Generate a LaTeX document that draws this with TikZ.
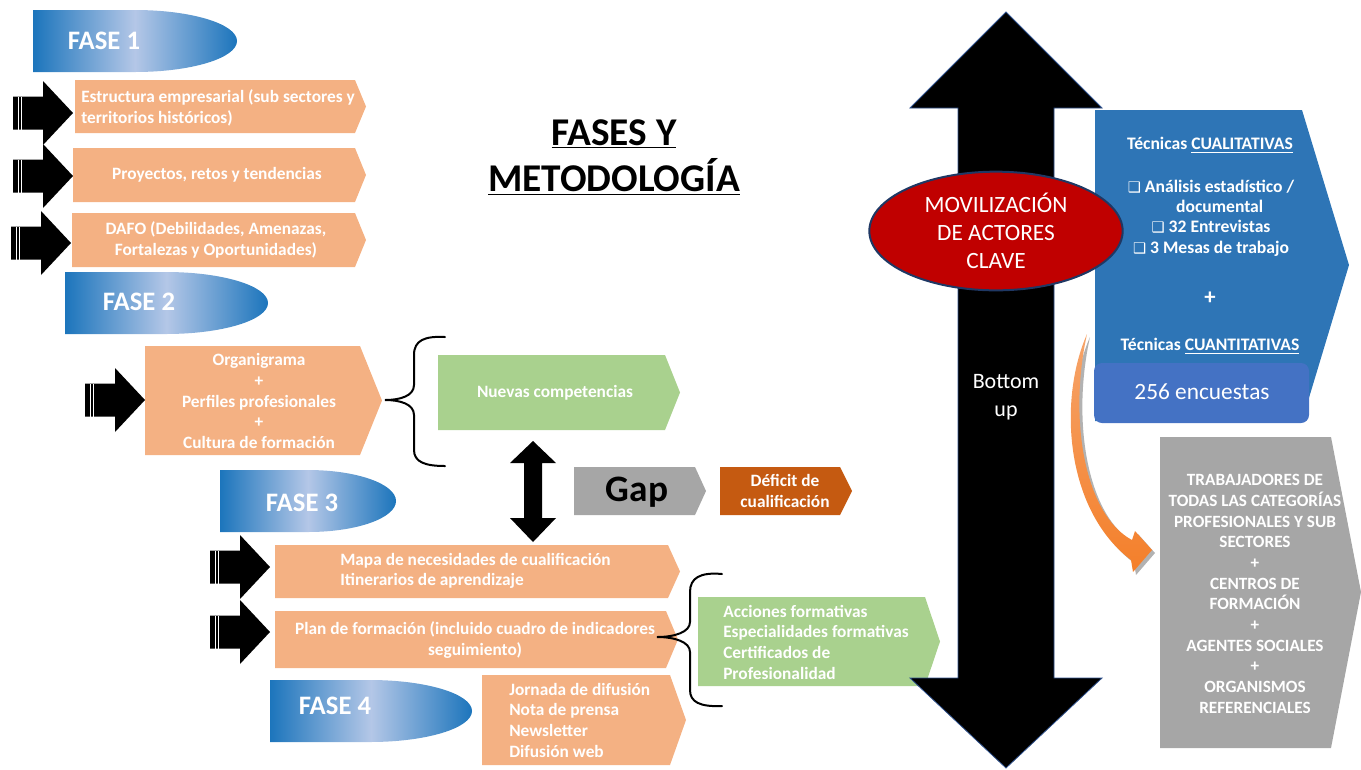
\documentclass[tikz,border=0pt]{standalone}
\usepackage{fontspec}
\setmainfont{Carlito}
\newfontfamily\symfont{DejaVu Sans}
\usetikzlibrary{shapes.geometric}

\definecolor{boxorange}{HTML}{F4B183}
\definecolor{boxgreen}{HTML}{A9D18E}
\definecolor{gapgray}{HTML}{A6A6A6}
\definecolor{deficitorange}{HTML}{C55A11}
\definecolor{techblue}{HTML}{2E75B6}
\definecolor{surveyblue}{HTML}{4472C4}
\definecolor{actorred}{HTML}{C00000}
\definecolor{actorrim}{HTML}{1F3864}
\definecolor{arrowrim}{HTML}{2F528F}
\definecolor{fasedark}{HTML}{1C75BC}
\definecolor{faselight}{HTML}{B4C7E7}
\definecolor{curveorange}{HTML}{F47F2A}
\definecolor{curvelight}{HTML}{F6A46A}

\tikzset{
  boxtext/.style={text=white, font=\bfseries\fontsize{13}{15.5}\selectfont, inner sep=0pt},
  fasetext/.style={text=white, font=\bfseries\fontsize{20}{24}\selectfont, inner sep=0pt},
  techtext/.style={text=white, font=\bfseries\fontsize{13.2}{15.2}\selectfont, inner sep=0pt, align=center},
  brace/.style={line width=1.5pt, line cap=round},
}
\newcommand{\chk}{{\symfont\fontsize{11}{12}\selectfont ❑}}

\begin{document}
\begin{tikzpicture}[x=0.75pt, y=-0.75pt]
\useasboundingbox (0,0) rectangle (1361,769);

\foreach \fx/\fy/\fw/\fr/\tx/\ty/\fn in {33/10/204/102/104/41/1, 65/272/203/102/139/302/2, 220/470/176/88/302/503/3, 270/680/202/102/335/706/4}{
  \pgfmathsetmacro{\fa}{\fx+\fw-\fr}
  \pgfmathsetmacro{\fb}{\fy+62}
  \pgfmathsetmacro{\fc}{\fy+31}
  \shade[left color=fasedark, right color=fasedark, middle color=faselight]
    (\fx,\fy) -- (\fa,\fy) .. controls ({\fa+0.552*\fr},\fy) and ({\fa+\fr},{\fc-17.1}) .. ({\fa+\fr},\fc)
    .. controls ({\fa+\fr},{\fc+17.1}) and ({\fa+0.552*\fr},\fb) .. (\fa,\fb) -- (\fx,\fb) -- cycle;
  \node[fasetext] (fase\fn) at (\tx,\ty) {FASE \fn};
}

\foreach \tx/\ty in {73/113, 73/176, 71/243, 145/400, 270/567, 270/632}{
  \fill (\tx,\ty) -- (\tx-30,\ty-32) -- (\tx-30,\ty-16.5) -- (\tx-60,\ty-16.5) -- (\tx-60,\ty+16.5)
    -- (\tx-30,\ty+16.5) -- (\tx-30,\ty+32) -- cycle;
  \draw[white, line width=0.75pt] (\tx-54.5,\ty-16.5) -- (\tx-54.5,\ty+16.5) (\tx-51.5,\ty-16.5) -- (\tx-51.5,\ty+16.5);
}

\fill[boxorange] (75,80) -- (355,80) -- (366,106.5) -- (355,133) -- (75,133) -- cycle;
\fill[boxorange] (73,148) -- (355,148) -- (366,175) -- (355,202) -- (73,202) -- cycle;
\fill[boxorange] (72,213) -- (355,213) -- (366,240) -- (355,267) -- (72,267) -- cycle;
\fill[boxorange] (145,346) -- (360,346) -- (382,400.5) -- (360,455) -- (145,455) -- cycle;
\fill[boxgreen] (438,355) -- (665,355) -- (680,392.5) -- (665,430) -- (438,430) -- cycle;
\fill[gapgray] (574,467) -- (695,467) -- (706,491) -- (695,515) -- (574,515) -- cycle;
\fill[deficitorange] (720,467) -- (840,467) -- (852,491) -- (840,515) -- (720,515) -- cycle;
\fill[boxorange] (275,545) -- (668,545) -- (680,571.5) -- (668,598) -- (275,598) -- cycle;
\fill[boxorange] (275,611) -- (666,611) -- (678,639.5) -- (666,668) -- (275,668) -- cycle;
\fill[boxgreen] (698,597) -- (925,597) -- (940,641.5) -- (925,686) -- (698,686) -- cycle;
\fill[boxorange] (482,675) -- (670,675) -- (686,720) -- (670,765) -- (482,765) -- cycle;

\node[boxtext, anchor=west, align=left] (estructura) at (81,108) {Estructura empresarial (sub sectores y\\territorios históricos)};
\node[boxtext] (proyectos) at (217,175) {Proyectos, retos y tendencias};
\node[boxtext, align=center] (dafo) at (216,240) {DAFO (Debilidades, Amenazas,\\Fortalezas y Oportunidades)};
\node[boxtext, align=center] (organigrama) at (259,401) {Organigrama\\+\\Perfiles profesionales\\+\\Cultura de formación};
\node[boxtext] (competencias) at (555,393) {Nuevas competencias};
\node[font=\bfseries\fontsize{28}{30}\selectfont, inner sep=0pt] (gap) at (637,492) {Gap};
\node[boxtext, align=center] (deficit) at (785,491) {Déficit de\\cualificación};
\node[boxtext, anchor=west, align=left] (mapa) at (340,571) {Mapa de necesidades de cualificación\\Itinerarios de aprendizaje};
\node[boxtext, align=center] (plan) at (475,640) {Plan de formación (incluido cuadro de indicadores\\seguimiento)};
\node[boxtext, anchor=west, align=left] (acciones) at (723,642) {Acciones formativas\\Especialidades formativas\\Certificados de\\Profesionalidad};
\node[boxtext, anchor=west, align=left] (difusion) at (509,720) {Jornada de difusión\\Nota de prensa\\Newsletter\\Difusión web};

\fill (533,441) -- (556,463) -- (542,463) -- (542,518) -- (556,518) -- (533,542) -- (510,518)
  -- (524,518) -- (524,463) -- (510,463) -- cycle;

\draw[brace] (445,337) .. controls (425,336) and (414,340) .. (414,355) -- (414,385)
  .. controls (414,396) and (400,400) .. (385,400) .. controls (400,400) and (414,404) .. (414,415)
  -- (414,450) .. controls (414,462) and (425,466) .. (445,466);
\draw[brace] (722,574) .. controls (700,572) and (690,578) .. (690,592) -- (690,622)
  .. controls (690,632) and (675,637) .. (657,637) .. controls (675,637) and (690,642) .. (690,652)
  -- (690,690) .. controls (690,702) and (700,707) .. (722,706);

\node[font=\bfseries\fontsize{29.5}{35}\selectfont, align=center, inner sep=0pt] (title) at (614,157)
  {\underline{FASES Y}\\\underline{METODOLOGÍA}};

\filldraw[draw=arrowrim, line width=0.6pt] (1006,12) -- (1102,108) -- (1054,108) -- (1054,678) -- (1102,678)
  -- (1006,768) -- (910,678) -- (958,678) -- (958,108) -- (910,108) -- cycle;
\node[text=white, font=\fontsize{16.5}{21}\selectfont, align=center, inner sep=0pt] (bottomup) at (1006,397) {Bottom\\up};

\fill[techblue] (1095,110) -- (1302,110) -- (1349,265) -- (1302,421) -- (1095,421) -- cycle;
\fill[surveyblue, rounded corners=6pt] (1094,363) rectangle (1309,423);
\fill[gapgray] (1160,437) -- (1331,437) -- (1361,592) -- (1331,748) -- (1160,748) -- cycle;

\node[ellipse, draw=actorrim, line width=1.5pt, fill=actorred, minimum width=190pt, minimum height=89pt,
  text=white, font=\fontsize{17.5}{20.8}\selectfont, align=center, inner sep=0pt] (actores) at (996,231)
  {MOVILIZACIÓN\\DE ACTORES\\CLAVE};

\node[techtext] (cualitativas) at (1210,145) {Técnicas \underline{CUALITATIVAS}};
\node[techtext] (tecnicas) at (1211,218) {\chk\ Análisis estadístico /\\\hspace*{13pt}documental\\\chk\ 32 Entrevistas\\\chk\ 3 Mesas de trabajo};
\node[techtext, font=\bfseries\fontsize{17}{20}\selectfont] (mas) at (1210,298) {+};
\node[techtext] (cuantitativas) at (1210,346) {Técnicas \underline{CUANTITATIVAS}};
\node[text=white, font=\fontsize{17.5}{21}\selectfont, inner sep=0pt] (encuestas) at (1202,392) {256 encuestas};

\node[techtext, font=\bfseries\fontsize{12.9}{15.5}\selectfont] (agentes) at (1255,594)
  {TRABAJADORES DE\\TODAS LAS CATEGORÍAS\\PROFESIONALES Y SUB\\SECTORES\\+\\CENTROS DE\\FORMACIÓN\\+\\AGENTES SOCIALES\\+\\ORGANISMOS\\REFERENCIALES};

\fill[black, opacity=0.3] (1090,337) .. controls (1061,403) and (1068,513) .. (1134,563) -- (1136,575) -- (1155,553)
  -- (1138,534) -- (1135,543) .. controls (1088,518) and (1071,423) .. (1090,337) -- cycle;
\shade[top color=curvelight, bottom color=curveorange] (1087,334) .. controls (1058,400) and (1065,510) .. (1131,560)
  -- (1133,572) -- (1152,550) -- (1135,531) -- (1132,540) .. controls (1085,515) and (1068,420) .. (1087,334) -- cycle;
\end{tikzpicture}
\end{document}
